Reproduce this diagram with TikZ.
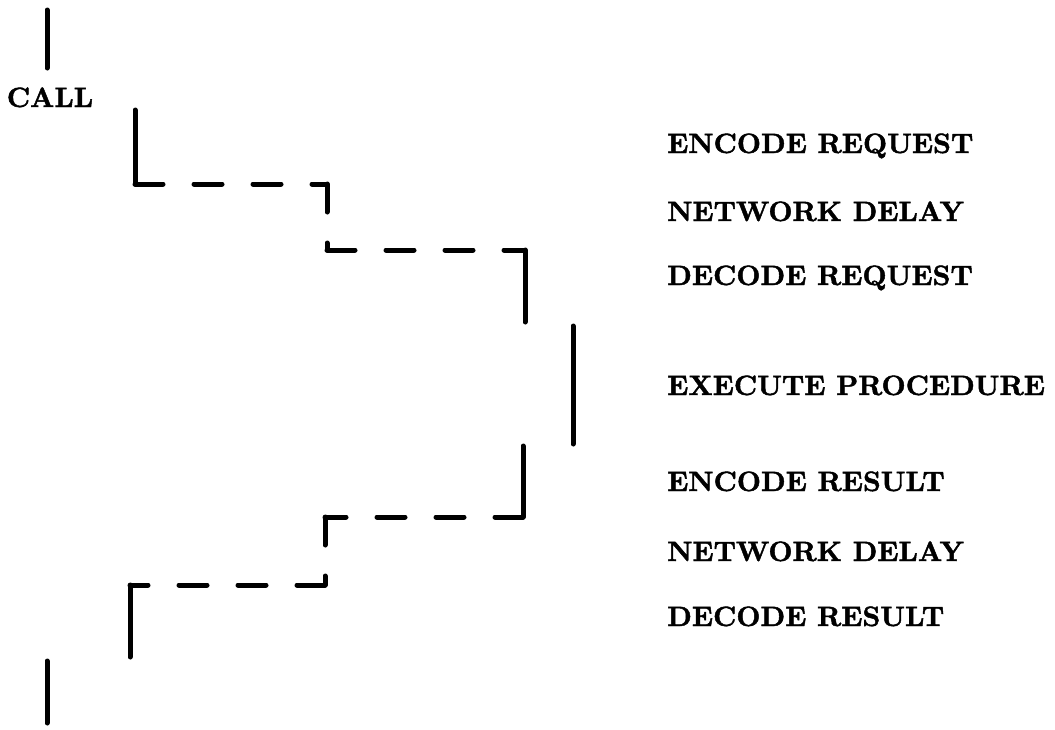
\documentclass[tikz,border=0pt]{standalone}
\usepackage{fontspec}
\newfontfamily\heavy{lmroman10-bold}[Extension=.otf, FakeBold=1.6]
\begin{document}
\begin{tikzpicture}[x=1pt,y=-1pt,
  solidline/.style={line width=5pt, line cap=round},
  dashline/.style={line width=5pt, line cap=round, dash pattern=on 28pt off 31pt},
  lbl/.style={anchor=base west, inner sep=0pt, font=\fontsize{28}{34}\selectfont\heavy}]
\useasboundingbox (0,0) rectangle (1055,729);
% caller thread
\coordinate (t0) at (47,10);
\coordinate (t1) at (47,68);
\node[anchor=base, inner sep=0pt, font=\fontsize{28}{34}\selectfont\heavy] (call) at (50,107) {CALL};
% request path
\coordinate (a0) at (135,110);
\coordinate (a1) at (135,184);
\coordinate (a2) at (327,184);
\coordinate (a3) at (327,250);
\coordinate (a4) at (525,250);
\coordinate (a5) at (525,322);
% execute
\coordinate (e0) at (573,326);
\coordinate (e1) at (573,444);
% result path
\coordinate (b0) at (523,446);
\coordinate (b1) at (523,517);
\coordinate (b2) at (325,517);
\coordinate (b3) at (325,585);
\coordinate (b4) at (130,585);
\coordinate (b5) at (130,657);
% caller resumes
\coordinate (z0) at (47,661);
\coordinate (z1) at (47,723);

\draw[solidline] (t0) -- (t1);
\draw[solidline] (a0) -- (a1);
\draw[dashline] (a1) -- (a2);
\draw[dashline] (a2) -- (a3);
\draw[dashline] (a3) -- (a4);
\draw[solidline] (a4) -- (a5);
\draw[solidline] (e0) -- (e1);
\draw[solidline] (b0) -- (b1);
\draw[dashline] (b1) -- (b2);
\draw[dashline] (b2) -- (b3);
\draw[dashline] (b3) -- (b4);
\draw[solidline] (b4) -- (b5);
\draw[solidline] (z0) -- (z1);

% labels
\node[lbl] (encreq) at (667,153) {ENCODE REQUEST};
\node[lbl] (net1) at (667,221) {NETWORK DELAY};
\node[lbl] (decreq) at (667,285) {DECODE REQUEST};
\node[lbl] (exec) at (667,395) {EXECUTE PROCEDURE};
\node[lbl] (encres) at (667,491) {ENCODE RESULT};
\node[lbl] (net2) at (667,561) {NETWORK DELAY};
\node[lbl] (decres) at (667,626) {DECODE RESULT};
\end{tikzpicture}
\end{document}
